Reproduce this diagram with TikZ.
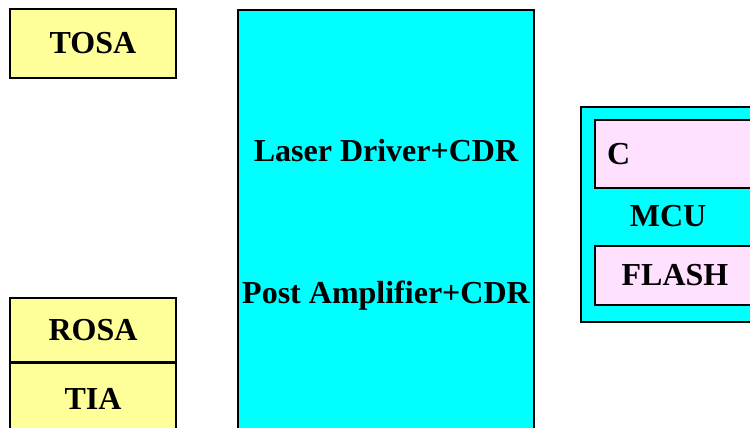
\documentclass[tikz,border=0pt]{standalone}
\usepackage{fontspec}
\setmainfont{Liberation Serif}
\usetikzlibrary{positioning}

\definecolor{optyellow}{HTML}{FFFF99}
\definecolor{chipcyan}{HTML}{00FFFF}
\definecolor{mempink}{HTML}{FFE0FF}

\begin{document}
\begin{tikzpicture}[
    x = 1pt, y = -1pt, % one unit per pixel, y downwards
    node distance = 0pt,
    font = \fontsize{32}{38}\selectfont\bfseries,
    line width = 1.2pt
    ]

    \tikzset{
    optbox/.style = {draw = black, fill = optyellow, minimum width = 166pt, inner sep = 0pt},
    chipbox/.style = {draw = black, fill = chipcyan, inner sep = 0pt},
    membox/.style = {draw = black, fill = mempink, minimum width = 160pt, inner sep = 0pt},
    txt/.style = {inner sep = 0pt}
    }

    \useasboundingbox (0,0) rectangle (750,428);
    \clip (0,0) rectangle (750,428);

    % optics
    \node[optbox, minimum height = 69pt] (tosa) at (93,43.5) {TOSA};
    \node[optbox, minimum height = 64pt] (rosa) at (93,330) {ROSA};
    \node[optbox, minimum height = 72pt] (tia) [below=of rosa] {TIA};

    % driver / amplifier chip
    \node[chipbox, minimum width = 296pt, minimum height = 430pt] (chip) at (386,225) {};
    \node[txt] (driver) at (386,151) {Laser Driver+CDR};
    \node[txt] (postamp) at (386,296) {Post Amplifier+CDR};

    % controller
    \node[chipbox, minimum width = 180pt, minimum height = 215pt] (mcu) at (671,214.5) {};
    \node[membox, minimum height = 68pt] (ucbox) at (675,154) {};
    \node[txt, anchor = west] (uc) at ([xshift=12pt]ucbox.west) {C};
    \node[txt] (mculabel) at (668,216) {MCU};
    \node[membox, minimum height = 59pt] (flash) at (675,275.5) {FLASH};

\end{tikzpicture}
\end{document}
